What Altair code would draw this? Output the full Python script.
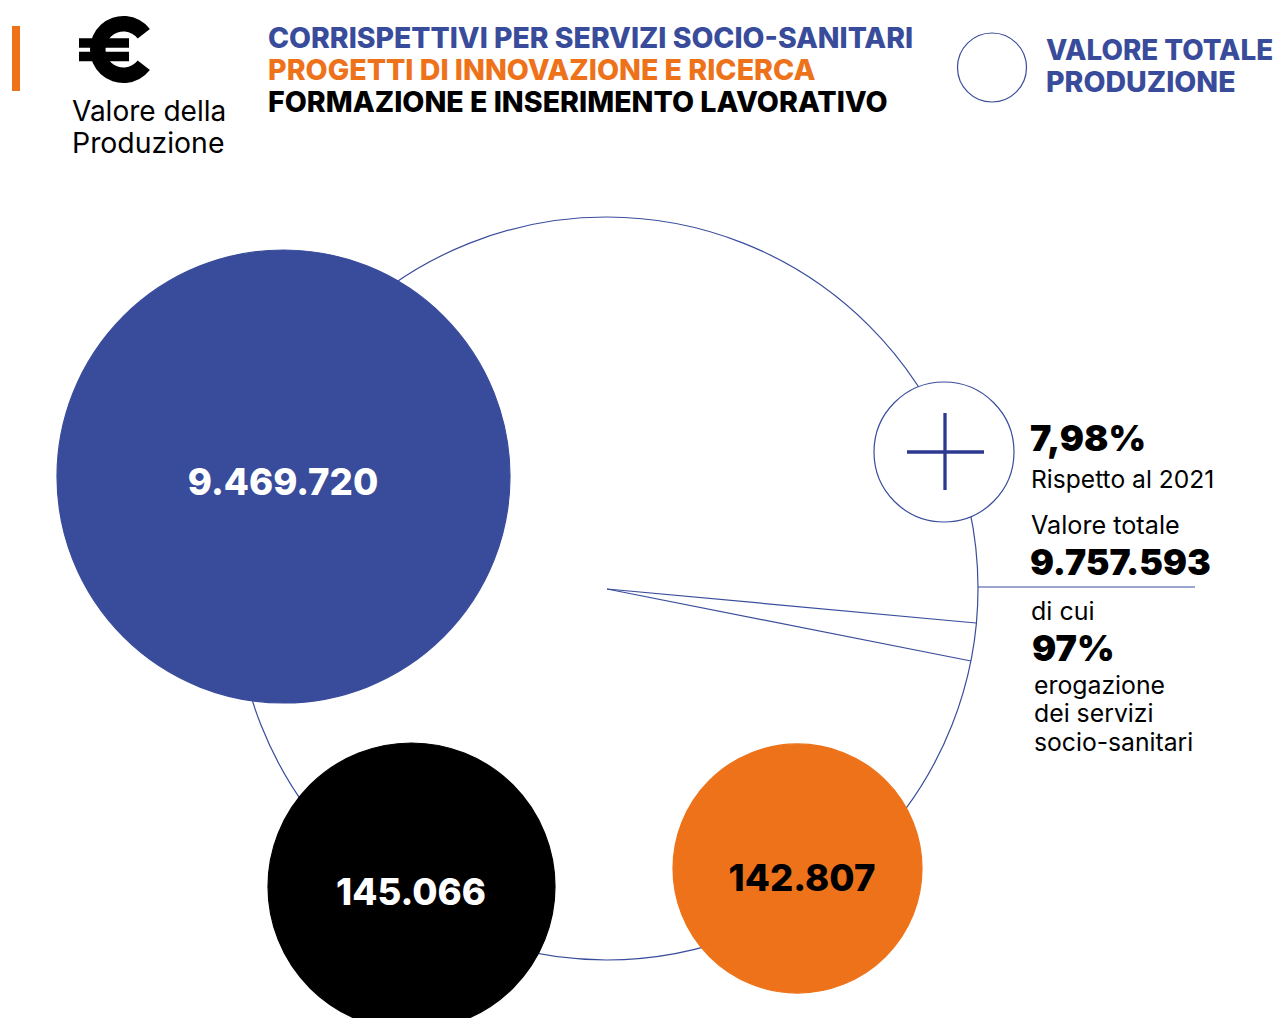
import altair as alt
import pandas as pd

BLUE = "#394c9b"
ORANGE = "#ee7219"
BLACK = "#000000"
LINE = "#3a4d9c"
PLUS = "#2b3990"
SANS = "Inter"

# values shown in the big circles
values = ["9.469.720", "145.066", "142.807"]
legend_lines = ["CORRISPETTIVI PER SERVIZI SOCIO-SANITARI", "PROGETTI DI INNOVAZIONE E RICERCA", "FORMAZIONE E INSERIMENTO LAVORATIVO"]

# circles
circle_x = [606.5, 283.5, 411.5, 797.5, 944, 992]
circle_y = [588.5, 476.5, 886.5, 868.5, 452, 67.5]
circle_d = [743, 453, 287, 249, 140, 69]
circle_fill = ["transparent", BLUE, BLACK, ORANGE, "#ffffff", "#ffffff"]
circle_stroke = [LINE, BLUE, BLACK, ORANGE, LINE, LINE]

# straight lines
line_x = [607, 607, 978, 907, 945, 16, 79, 79]
line_x2 = [976, 971, 1195, 984, 945, 16, 129, 129]
line_y = [589, 589, 587, 452, 413, 26, 43, 56.5]
line_y2 = [623, 661, 587, 452, 490, 91, 43, 56.5]
line_w = [1.2, 1.2, 1.2, 3.3, 3.3, 8, 9.5, 9.5]
line_c = [LINE, LINE, LINE, PLUS, PLUS, ORANGE, BLACK, BLACK]

# euro ring
euro_x = [123.5]
euro_y = [49.5]
euro_r = [33.5]
euro_r2 = [18]
euro_t = [2.234]
euro_t2 = [7.191]

# texts
bold_t = legend_lines + ["VALORE TOTALE", "PRODUZIONE"]
bold_x = [268, 268, 268, 1046, 1046]
bold_y = [48, 80, 112, 60, 92]
bold_s = [28.4, 28.6, 28.6, 27.8, 28.5]
bold_c = [BLUE, ORANGE, BLACK, BLUE, BLUE]

reg_t = ["Valore della", "Produzione", "Rispetto al 2021", "Valore totale", "di cui", "erogazione", "dei servizi", "socio-sanitari"]
reg_x = [72, 72, 1031, 1031, 1031, 1034, 1034, 1034]
reg_y = [121, 153, 488, 534, 620, 694, 722, 751]
reg_s = [28, 28.4, 24.6, 25.2, 25, 24.8, 24.8, 24.7]

blk_t = ["7,98%", "9.757.593", "97%"]
blk_x = [1030, 1030, 1032]
blk_y = [451, 575, 661]
blk_s = [36, 35.6, 36]

num_x = [283, 411, 802]
num_y = [495, 905, 891]
num_c = ["#ffffff", "#ffffff", BLACK]

W, H = 1266, 1010
X = alt.X("x:Q", axis=None, scale=alt.Scale(domain=[8, 1274], zero=False, nice=False))
Y = alt.Y("y:Q", axis=None, scale=alt.Scale(domain=[1018, 8], zero=False, nice=False))

circles = pd.DataFrame({"x": circle_x, "y": circle_y, "size": [d * d for d in circle_d],
                        "fill": circle_fill, "stroke": circle_stroke})
lines = pd.DataFrame({"x": line_x, "x2": line_x2, "y": line_y, "y2": line_y2, "w": line_w, "c": line_c})
euro = pd.DataFrame({"x": euro_x, "y": euro_y, "r": euro_r, "r2": euro_r2, "t": euro_t, "t2": euro_t2})


def circ(df):
    return alt.Chart(df).mark_point(shape="circle", filled=False, opacity=1, strokeWidth=1.2).encode(
        x=X, y=Y,
        size=alt.Size("size:Q", scale=None, legend=None),
        fill=alt.Fill("fill:N", scale=None, legend=None),
        stroke=alt.Stroke("stroke:N", scale=None, legend=None),
    )


def rules(df):
    return alt.Chart(df).mark_rule().encode(
        x=X, x2="x2:Q", y=Y, y2="y2:Q",
        strokeWidth=alt.StrokeWidth("w:Q", scale=None, legend=None),
        color=alt.Color("c:N", scale=None, legend=None),
    )


def text(t, x, y, s, c, weight, align="left", font=SANS):
    df = pd.DataFrame({"t": t, "x": x, "y": y, "s": s, "c": c})
    return alt.Chart(df).mark_text(align=align, baseline="alphabetic", font=font, fontWeight=weight).encode(
        x=X, y=Y, text="t:N",
        size=alt.Size("s:Q", scale=None, legend=None),
        color=alt.Color("c:N", scale=None, legend=None),
    )


ring = alt.Chart(euro).mark_arc(color=BLACK).encode(
    x=X, y=Y,
    theta=alt.Theta("t:Q", scale=None), theta2="t2:Q",
    radius=alt.Radius("r:Q", scale=None), radius2="r2:Q",
)

chart = alt.layer(
    circ(circles.iloc[[0]]),
    rules(lines.iloc[:3]),
    circ(circles.iloc[1:]),
    rules(lines.iloc[3:]),
    ring,
    text(bold_t, bold_x, bold_y, bold_s, bold_c, 800),
    text(reg_t, reg_x, reg_y, reg_s, [BLACK] * len(reg_t), 400),
    text(blk_t, blk_x, blk_y, blk_s, [BLACK] * 3, 900),
    text(values, num_x, num_y, [36.6] * 3, num_c, 800, "center"),
).properties(
    width=W, height=H, padding=0, background="#ffffff",
    autosize=alt.AutoSizeParams(type="none"),
).configure_view(stroke=None)

chart.save("out.html", embed_options={"renderer": "svg", "actions": False})
